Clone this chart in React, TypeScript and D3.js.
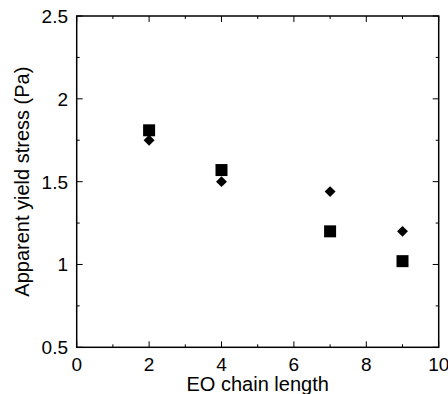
import React from "react";
import * as d3 from "d3";

const xTicks = [0, 2, 4, 6, 8, 10];
const yTicks = [0.5, 1, 1.5, 2, 2.5];
const xMinor = [1, 3, 5, 7, 9];
const yMinor = [0.75, 1.25, 1.75, 2.25];

const squareX = [2, 4, 7, 9];
const squareY = [1.81, 1.57, 1.2, 1.02];
const diamondX = [2, 4, 7, 9];
const diamondY = [1.75, 1.5, 1.44, 1.2];

export default function App() {
  const W = 448, H = 394;
  const left = 76.7, right = 438.7, top = 16, bottom = 347.3;
  const x = d3.scaleLinear().domain([0, 10]).range([left, right]);
  const y = d3.scaleLinear().domain([0.5, 2.5]).range([bottom, top]);
  const font = "'Liberation Sans', Arial, sans-serif";
  const diamond = d3.symbol().type(d3.symbolDiamond2).size(76)();
  return (
    <svg width={W} height={H} style={{ position: "absolute", left: 0, top: 0 }}>
      <rect x={0} y={0} width={W} height={H} fill="#fff" />
      <rect x={left} y={top} width={right - left} height={bottom - top} fill="none" stroke="#000" strokeWidth={1.5} />
      {xTicks.map((t) => (
        <g key={"x" + t}>
          <line x1={x(t)} x2={x(t)} y1={bottom} y2={bottom - 6} stroke="#000" strokeWidth={1} />
          <line x1={x(t)} x2={x(t)} y1={top} y2={top + 6} stroke="#000" strokeWidth={1} />
          <text x={x(t)} y={370.5} textAnchor="middle" fontFamily={font} fontSize={19} fill="#000">{t}</text>
        </g>
      ))}
      {xMinor.map((t) => (
        <g key={"xm" + t}>
          <line x1={x(t)} x2={x(t)} y1={bottom} y2={bottom - 3} stroke="#000" strokeWidth={1} />
          <line x1={x(t)} x2={x(t)} y1={top} y2={top + 3} stroke="#000" strokeWidth={1} />
        </g>
      ))}
      {yTicks.map((t) => (
        <g key={"y" + t}>
          <line x1={left} x2={left + 6} y1={y(t)} y2={y(t)} stroke="#000" strokeWidth={1} />
          <line x1={right} x2={right - 6} y1={y(t)} y2={y(t)} stroke="#000" strokeWidth={1} />
          <text x={68} y={y(t) + 7} textAnchor="end" fontFamily={font} fontSize={19} fill="#000">{t}</text>
        </g>
      ))}
      {yMinor.map((t) => (
        <g key={"ym" + t}>
          <line x1={left} x2={left + 3} y1={y(t)} y2={y(t)} stroke="#000" strokeWidth={1} />
          <line x1={right} x2={right - 3} y1={y(t)} y2={y(t)} stroke="#000" strokeWidth={1} />
        </g>
      ))}
      {squareX.map((v, i) => (
        <rect key={"s" + i} x={x(v) - 6} y={y(squareY[i]) - 6} width={12} height={12} fill="#000" />
      ))}
      {diamondX.map((v, i) => (
        <path key={"d" + i} d={diamond as string} transform={`translate(${x(v)},${y(diamondY[i])})`} fill="#000" />
      ))}
      <text x={(left + right) / 2} y={391} textAnchor="middle" fontFamily={font} fontSize={20} fill="#000">EO chain length</text>
      <text transform={`translate(29,${(top + bottom) / 2}) rotate(-90)`} textAnchor="middle" fontFamily={font} fontSize={20} fill="#000">Apparent yield stress (Pa)</text>
    </svg>
  );
}
